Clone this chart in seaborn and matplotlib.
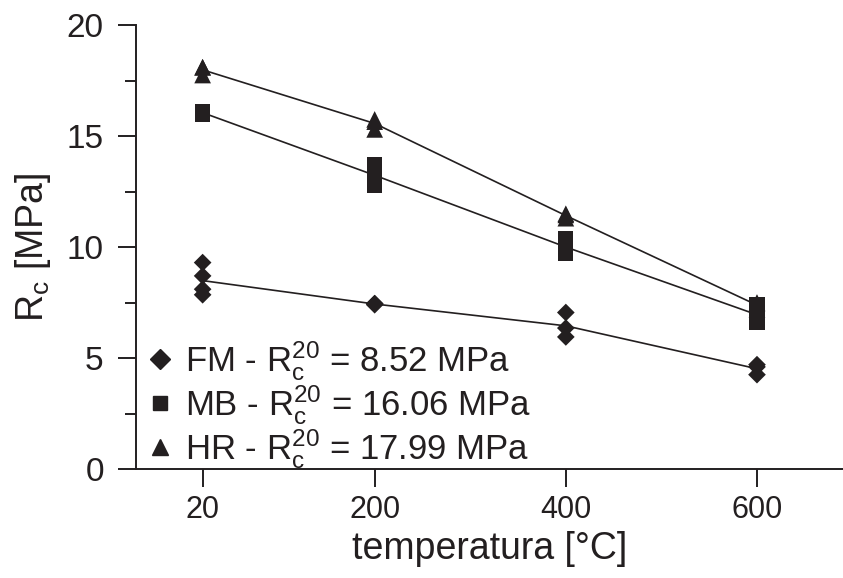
import numpy as np
import pandas as pd
import matplotlib
matplotlib.use("Agg")
import matplotlib.pyplot as plt
import seaborn as sns
from matplotlib.lines import Line2D

# ---- data ----
temperatures = [20, 200, 400, 600]
fm_values = [[9.3, 8.7, 8.1, 7.85], [7.45, 7.45, 7.4], [7.05, 6.35, 5.95], [4.7, 4.6, 4.25]]
mb_values = [[16.0, 16.1, 16.06], [13.7, 13.2, 12.8], [10.4, 9.9, 9.7], [7.4, 6.85, 6.6]]
hr_values = [[18.1, 17.75, 18.1], [15.75, 15.3, 15.65], [11.45, 11.3, 11.5], [7.45, 7.2, 7.5]]
series_names = ["FM", "MB", "HR"]
legend_labels = [
    r"FM - R$_{\mathregular{c}}^{\mathregular{20}}$ = 8.52 MPa",
    r"MB - R$_{\mathregular{c}}^{\mathregular{20}}$ = 16.06 MPa",
    r"HR - R$_{\mathregular{c}}^{\mathregular{20}}$ = 17.99 MPa",
]
y_ticks = [0, 5, 10, 15, 20]

rows = []
for name, vals in zip(series_names, [fm_values, mb_values, hr_values]):
    for t, vs in zip(temperatures, vals):
        for v in vs:
            rows.append({"temp": t, "Rc": v, "mat": name})
df = pd.DataFrame(rows)

sns.set_style("ticks")
plt.rcParams["font.family"] = ["Liberation Sans", "DejaVu Sans"]
plt.rcParams["mathtext.fontset"] = "custom"
plt.rcParams["mathtext.rm"] = "Liberation Sans"
plt.rcParams["mathtext.it"] = "Liberation Sans:italic"

ink = "#231f20"
fig = plt.figure(figsize=(8.43, 5.78), dpi=100)
ax = fig.add_axes([0.161, 0.1886, 0.839, 0.768])

palette = {n: ink for n in series_names}
markers = {"FM": "D", "MB": "s", "HR": "^"}
sizes = {"FM": 9, "MB": 11, "HR": 12}

sns.lineplot(data=df, x="temp", y="Rc", hue="mat", palette=palette,
             estimator="mean", errorbar=None, linewidth=1.2, legend=False, ax=ax)
for name in series_names:
    sub = df[df.mat == name]
    sns.scatterplot(data=sub, x="temp", y="Rc", color=ink, marker=markers[name],
                    s=sizes[name] ** 2, edgecolor="none", linewidth=0, legend=False,
                    ax=ax, zorder=3)

ax.set_xlim(-50, 690)
ax.set_ylim(0, 20)
ax.set_xticks(temperatures)
ax.set_xticklabels([str(t) for t in temperatures])
ax.set_yticks(y_ticks)
ax.set_yticks([2.5, 7.5, 12.5, 17.5], minor=True)
for s in ["top", "right"]:
    ax.spines[s].set_visible(False)
for s in ["left", "bottom"]:
    ax.spines[s].set_linewidth(1.4)
    ax.spines[s].set_color(ink)
ax.tick_params(axis="both", which="major", length=13, width=1.4, color=ink,
               labelcolor=ink)
ax.tick_params(axis="y", which="major", labelsize=24, pad=10)
ax.tick_params(axis="x", which="major", labelsize=22, pad=6)
ax.tick_params(axis="y", which="minor", length=8, width=1.4, color=ink)

ax.set_xlabel("temperatura [°C]", fontsize=27, color=ink, labelpad=4)
ax.set_ylabel(r"R$_{\mathregular{c}}$ [MPa]", fontsize=27, color=ink, labelpad=10)

handles = [Line2D([], [], linestyle="none", marker=markers[n], color=ink,
                  markersize={"FM": 10, "MB": 10, "HR": 11}[n]) for n in series_names]
ax.legend(handles, legend_labels, loc="lower left", bbox_to_anchor=(-0.012, -0.055),
          frameon=False, fontsize=25, handlelength=0.6, handletextpad=0.4,
          labelspacing=0.0, borderpad=0.15, labelcolor=ink)

fig.savefig("out.png", dpi=100)
